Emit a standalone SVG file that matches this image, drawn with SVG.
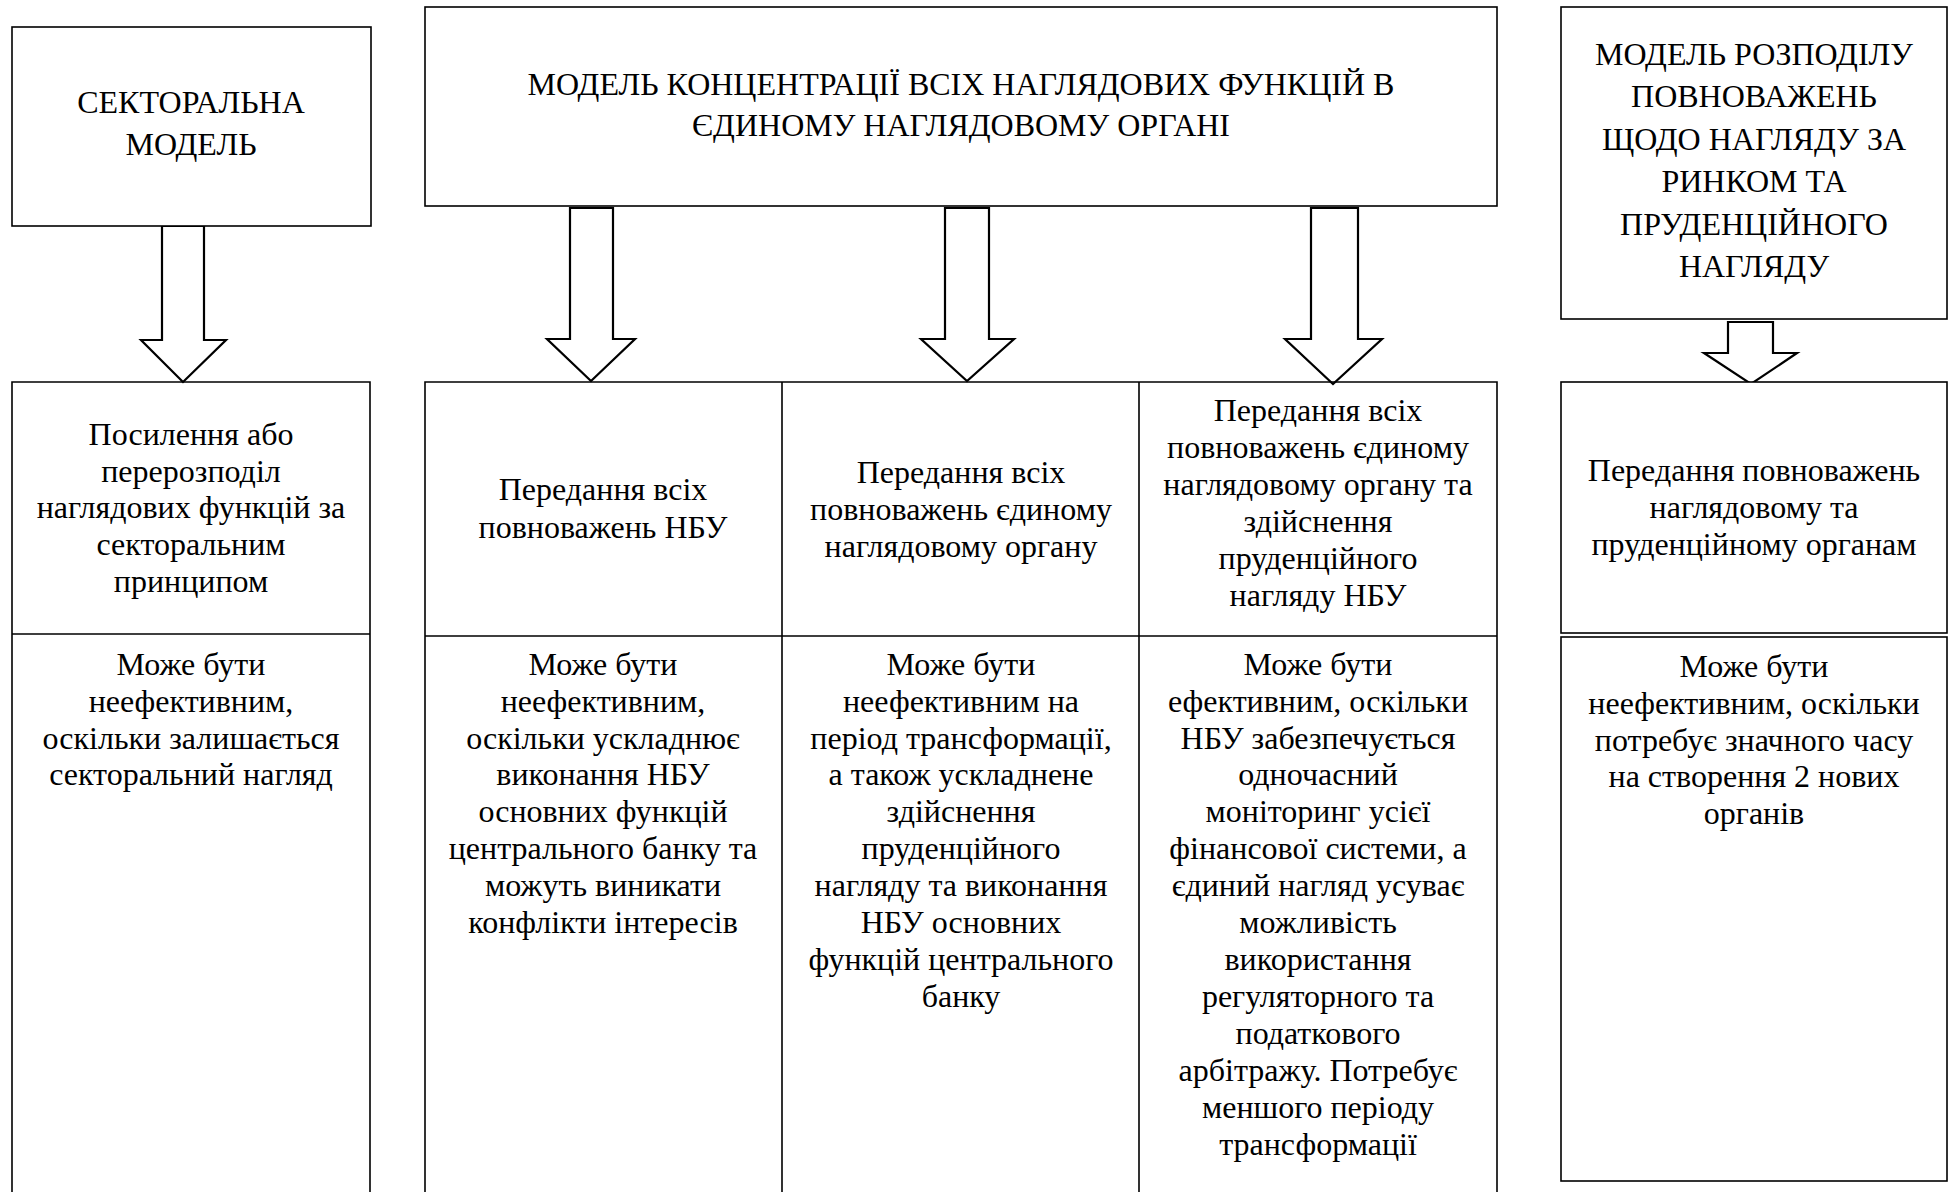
<svg xmlns="http://www.w3.org/2000/svg" width="1950" height="1192" viewBox="0 0 1950 1192">
<style>
.box{fill:#fff;stroke:#000;stroke-width:1.6}
.ln{stroke:#000;stroke-width:1.6;fill:none}
.arr{fill:#fff;stroke:#000;stroke-width:2.2;stroke-linejoin:miter}
text{font-family:"Liberation Serif","Times New Roman",serif;font-size:32px;fill:#000;text-anchor:middle}
</style>
<rect width="1950" height="1192" fill="#fff"/>
<g id="connectors">
<polygon class="arr" points="162,226 204,226 204,340 226,340 183,382 141,340 162,340"/>
<polygon class="arr" points="570,208 613,208 613,339 635,339 591,381 547,339 570,339"/>
<polygon class="arr" points="945,208 989,208 989,339 1014,339 967,381 921,339 945,339"/>
<polygon class="arr" points="1311,208 1358,208 1358,339 1382,339 1333,384 1285,339 1311,339"/>
<polygon class="arr" points="1728,322 1773,322 1773,353 1797,353 1751,384 1704,353 1728,353"/>
</g>
<g id="sectoral-model">
<rect class="box" x="12" y="27" width="359" height="199"/>
<text x="191" y="113">СЕКТОРАЛЬНА</text>
<text x="191" y="155">МОДЕЛЬ</text>
</g>
<g id="concentration-model">
<rect class="box" x="425" y="7" width="1072" height="199"/>
<text x="961" y="95">МОДЕЛЬ КОНЦЕНТРАЦІЇ ВСІХ НАГЛЯДОВИХ ФУНКЦІЙ В</text>
<text x="961" y="136">ЄДИНОМУ НАГЛЯДОВОМУ ОРГАНІ</text>
</g>
<g id="distribution-model">
<rect class="box" x="1561" y="7" width="386" height="312"/>
<text x="1754" y="65">МОДЕЛЬ РОЗПОДІЛУ</text>
<text x="1754" y="107">ПОВНОВАЖЕНЬ</text>
<text x="1754" y="150">ЩОДО НАГЛЯДУ ЗА</text>
<text x="1754" y="192">РИНКОМ ТА</text>
<text x="1754" y="235">ПРУДЕНЦІЙНОГО</text>
<text x="1754" y="277">НАГЛЯДУ</text>
</g>
<g id="sectoral-frame">
<path class="ln" d="M12,1200 V382 H370 V1200 M12,634 H370"/>
</g>
<g id="sectoral-measure">
<text x="191" y="445">Посилення або</text>
<text x="191" y="482">перерозподіл</text>
<text x="191" y="518">наглядових функцій за</text>
<text x="191" y="555">секторальним</text>
<text x="191" y="592">принципом</text>
</g>
<g id="sectoral-assessment">
<text x="191" y="675">Може бути</text>
<text x="191" y="712">неефективним,</text>
<text x="191" y="749">оскільки залишається</text>
<text x="191" y="785">секторальний нагляд</text>
</g>
<g id="concentration-frame">
<path class="ln" d="M425,1200 V382 H1497 V1200 M782,382 V1200 M1139,382 V1200 M425,636 H1497"/>
</g>
<g id="option-nbu">
<text x="603" y="500">Передання всіх</text>
<text x="603" y="538">повноважень НБУ</text>
</g>
<g id="option-nbu-assessment">
<text x="603" y="675">Може бути</text>
<text x="603" y="712">неефективним,</text>
<text x="603" y="749">оскільки ускладнює</text>
<text x="603" y="785">виконання НБУ</text>
<text x="603" y="822">основних функцій</text>
<text x="603" y="859">центрального банку та</text>
<text x="603" y="896">можуть виникати</text>
<text x="603" y="933">конфлікти інтересів</text>
</g>
<g id="option-single">
<text x="961" y="483">Передання всіх</text>
<text x="961" y="520">повноважень єдиному</text>
<text x="961" y="557">наглядовому органу</text>
</g>
<g id="option-single-assessment">
<text x="961" y="675">Може бути</text>
<text x="961" y="712">неефективним на</text>
<text x="961" y="749">період трансформації,</text>
<text x="961" y="785">а також ускладнене</text>
<text x="961" y="822">здійснення</text>
<text x="961" y="859">пруденційного</text>
<text x="961" y="896">нагляду та виконання</text>
<text x="961" y="933">НБУ основних</text>
<text x="961" y="970">функцій центрального</text>
<text x="961" y="1007">банку</text>
</g>
<g id="option-single-prudential">
<text x="1318" y="421">Передання всіх</text>
<text x="1318" y="458">повноважень єдиному</text>
<text x="1318" y="495">наглядовому органу та</text>
<text x="1318" y="532">здійснення</text>
<text x="1318" y="569">пруденційного</text>
<text x="1318" y="606">нагляду НБУ</text>
</g>
<g id="option-single-prudential-assessment">
<text x="1318" y="675">Може бути</text>
<text x="1318" y="712">ефективним, оскільки</text>
<text x="1318" y="749">НБУ забезпечується</text>
<text x="1318" y="785">одночасний</text>
<text x="1318" y="822">моніторинг усієї</text>
<text x="1318" y="859">фінансової системи, а</text>
<text x="1318" y="896">єдиний нагляд усуває</text>
<text x="1318" y="933">можливість</text>
<text x="1318" y="970">використання</text>
<text x="1318" y="1007">регуляторного та</text>
<text x="1318" y="1044">податкового</text>
<text x="1318" y="1081">арбітражу. Потребує</text>
<text x="1318" y="1118">меншого періоду</text>
<text x="1318" y="1155">трансформації</text>
</g>
<g id="distribution-measure">
<rect class="box" x="1561" y="382" width="386" height="251"/>
<text x="1754" y="481">Передання повноважень</text>
<text x="1754" y="518">наглядовому та</text>
<text x="1754" y="555">пруденційному органам</text>
</g>
<g id="distribution-assessment">
<rect class="box" x="1561" y="637" width="386" height="544"/>
<text x="1754" y="677">Може бути</text>
<text x="1754" y="714">неефективним, оскільки</text>
<text x="1754" y="751">потребує значного часу</text>
<text x="1754" y="787">на створення 2 нових</text>
<text x="1754" y="824">органів</text>
</g>
</svg>
